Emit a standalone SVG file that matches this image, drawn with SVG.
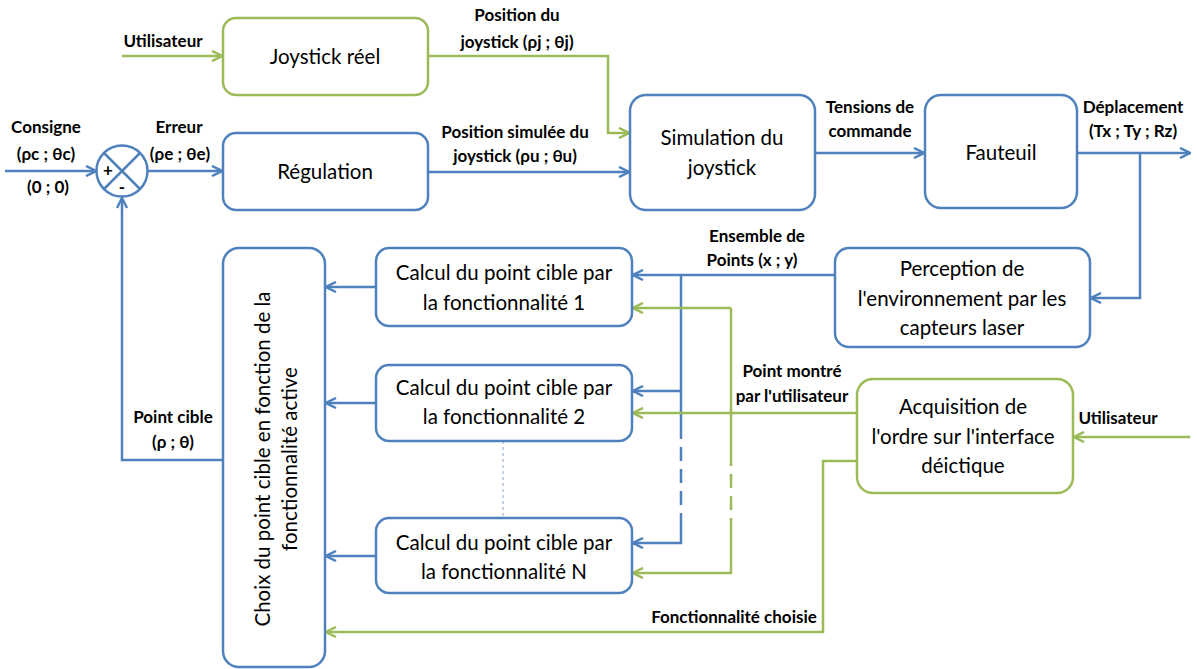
<svg xmlns="http://www.w3.org/2000/svg" width="1197" height="669" viewBox="0 0 1197 669">
<style>
.b{fill:#fff;stroke:#4F81BD;stroke-width:2.5}
.g{fill:#fff;stroke:#9BBB59;stroke-width:2.5}
.t{font-family:Lato,"Open Sans",sans-serif;font-size:20.5px;fill:#000;text-anchor:middle}
.l{font-family:Lato,"Open Sans",sans-serif;font-size:17px;font-weight:bold;fill:#000;text-anchor:middle}
.cb{fill:none;stroke:#4F81BD;stroke-width:2.5}
.cg{fill:none;stroke:#9BBB59;stroke-width:2.5}
</style>
<defs>
<marker id="ab" viewBox="0 0 12 12" refX="11" refY="6" markerWidth="12" markerHeight="12" markerUnits="userSpaceOnUse" orient="auto"><path d="M1,1 L11,6 L1,11" fill="none" stroke="#4F81BD" stroke-width="2.5"/></marker>
<marker id="ag" viewBox="0 0 12 12" refX="11" refY="6" markerWidth="12" markerHeight="12" markerUnits="userSpaceOnUse" orient="auto"><path d="M1,1 L11,6 L1,11" fill="none" stroke="#9BBB59" stroke-width="2.5"/></marker>
</defs>
<rect width="1197" height="669" fill="#fff"/>
<g id="connectors">
<path class="cg" d="M122,56 H222" marker-end="url(#ag)"/>
<path class="cg" d="M428,56 H608 V133 H629" marker-end="url(#ag)"/>
<path class="cb" d="M428,172 H629" marker-end="url(#ab)"/>
<path class="cb" d="M5,171 H96" marker-end="url(#ab)"/>
<path class="cb" d="M148,171 H222" marker-end="url(#ab)"/>
<path class="cb" d="M223,460 H122 V198" marker-end="url(#ab)"/>
<path class="cb" d="M815,153 H924" marker-end="url(#ab)"/>
<path class="cb" d="M1077,153 H1190" marker-end="url(#ab)"/>
<path class="cb" d="M1140,153 V298 H1091" marker-end="url(#ab)"/>
<path class="cb" d="M835,275 H633" marker-end="url(#ab)"/>
<path class="cb" d="M681,275 V425"/>
<path class="cb" d="M681,425 V527" stroke-dasharray="14,8"/>
<path class="cb" d="M681,527 V543 H633" marker-end="url(#ab)"/>
<path class="cb" d="M681,391 H633" marker-end="url(#ab)"/>
<path class="cg" d="M857,413 H633" marker-end="url(#ag)"/>
<path class="cg" d="M731,308 H633" marker-end="url(#ag)"/>
<path class="cg" d="M731,308 V452"/>
<path class="cg" d="M731,452 V530" stroke-dasharray="14,8"/>
<path class="cg" d="M731,530 V573 H633" marker-end="url(#ag)"/>
<path d="M503,441 V518" fill="none" stroke="#8EA9CC" stroke-width="1" stroke-dasharray="3,3"/>
<path class="cb" d="M376,287 H326" marker-end="url(#ab)"/>
<path class="cb" d="M376,403 H326" marker-end="url(#ab)"/>
<path class="cb" d="M376,556 H326" marker-end="url(#ab)"/>
<path class="cg" d="M857,461 H823 V632 H326" marker-end="url(#ag)"/>
<path class="cg" d="M1190,437 H1074" marker-end="url(#ag)"/>
</g>
<g id="labels">
<text class="l" x="163" y="47">Utilisateur</text>
<text class="l" x="517" y="21">Position du</text>
<text class="l" x="517" y="48">joystick (ρj ; θj)</text>
<text class="l" x="515" y="138">Position simulée du</text>
<text class="l" x="515" y="162">joystick (ρu ; θu)</text>
<text class="l" x="46" y="133">Consigne</text>
<text class="l" x="46" y="160">(ρc ; θc)</text>
<text class="l" x="48" y="193">(0 ; 0)</text>
<text class="l" x="179" y="133">Erreur</text>
<text class="l" x="180" y="160">(ρe ; θe)</text>
<text class="l" x="870" y="113">Tensions de</text>
<text class="l" x="870" y="137">commande</text>
<text class="l" x="1133" y="113">Déplacement</text>
<text class="l" x="1133" y="137">(Tx ; Ty ; Rz)</text>
<text class="l" x="757" y="242">Ensemble de</text>
<text class="l" x="752" y="266">Points (x ; y)</text>
<text class="l" x="792" y="377">Point montré</text>
<text class="l" x="792" y="402">par l'utilisateur</text>
<text class="l" x="1118" y="424">Utilisateur</text>
<text class="l" x="734" y="623">Fonctionnalité choisie</text>
<text class="l" x="173" y="423">Point cible</text>
<text class="l" x="173" y="448">(ρ ; θ)</text>
</g>
<g id="sum">
<circle cx="122" cy="171" r="25.5" fill="#fff" stroke="#4F81BD" stroke-width="2.5"/>
<path d="M104,153 L140,189 M140,153 L104,189" stroke="#4F81BD" stroke-width="2.5"/>
<text class="l" x="108" y="176">+</text>
<text class="l" x="122" y="193">-</text>
</g>
<g id="joystick-reel"><rect class="g" x="223" y="18" width="205" height="77" rx="13"/><text class="t" x="325" y="64">Joystick réel</text></g>
<g id="regulation"><rect class="b" x="223" y="133" width="205" height="77" rx="13"/><text class="t" x="325" y="179">Régulation</text></g>
<g id="simulation"><rect class="b" x="630" y="95" width="185" height="115" rx="16"/><text class="t" x="722" y="145">Simulation du</text><text class="t" x="722" y="175">joystick</text></g>
<g id="fauteuil"><rect class="b" x="925" y="95" width="152" height="113" rx="16"/><text class="t" x="1001" y="160">Fauteuil</text></g>
<g id="perception"><rect class="b" x="835" y="248" width="255" height="99" rx="14"/><text class="t" x="962" y="276">Perception de</text><text class="t" x="962" y="306">l'environnement par les</text><text class="t" x="962" y="335">capteurs laser</text></g>
<g id="acquisition"><rect class="g" x="857" y="379" width="216" height="114" rx="16"/><text class="t" x="963" y="414">Acquisition de</text><text class="t" x="963" y="444">l'ordre sur l'interface</text><text class="t" x="963" y="473">déictique</text></g>
<g id="calcul1"><rect class="b" x="376" y="248" width="256" height="78" rx="13"/><text class="t" x="504" y="280">Calcul du point cible par</text><text class="t" x="504" y="310">la fonctionnalité 1</text></g>
<g id="calcul2"><rect class="b" x="376" y="365" width="256" height="76" rx="13"/><text class="t" x="504" y="395">Calcul du point cible par</text><text class="t" x="504" y="424">la fonctionnalité 2</text></g>
<g id="calculN"><rect class="b" x="376" y="518" width="256" height="75" rx="13"/><text class="t" x="504" y="550">Calcul du point cible par</text><text class="t" x="504" y="579">la fonctionnalité N</text></g>
<g id="choix"><rect class="b" x="223" y="248" width="102" height="419" rx="16"/>
<text class="t" transform="translate(270,459) rotate(-90)">Choix du point cible en fonction de la</text>
<text class="t" transform="translate(297,459) rotate(-90)">fonctionnalité active</text></g>
</svg>
